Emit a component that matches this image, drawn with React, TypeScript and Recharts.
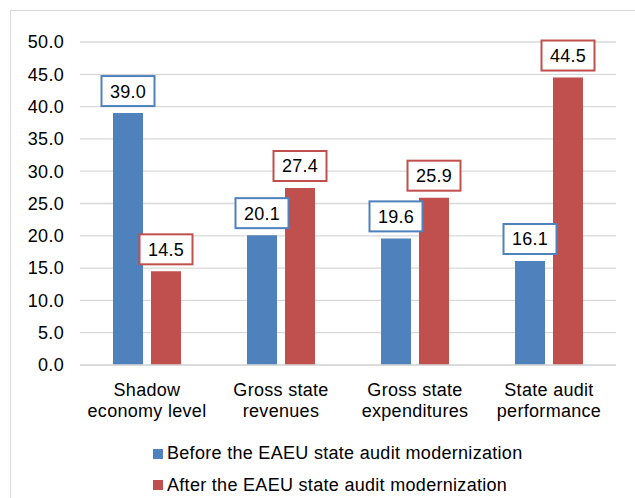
import React from "react";
import {
  BarChart,
  Bar,
  XAxis,
  YAxis,
  CartesianGrid,
  Legend,
  LabelList,
} from "recharts";

const categories = [
  "Shadow\neconomy level",
  "Gross state\nrevenues",
  "Gross state\nexpenditures",
  "State audit\nperformance",
];
const beforeValues = [39.0, 20.1, 19.6, 16.1];
const afterValues = [14.5, 27.4, 25.9, 44.5];
const yTicks = [0, 5, 10, 15, 20, 25, 30, 35, 40, 45, 50];
const seriesNames = [
  "Before the EAEU state audit modernization",
  "After the EAEU state audit modernization",
];

const BLUE = "#4F81BD";
const RED = "#C0504D";
const seriesColors = [BLUE, RED];
const FONT = "Arial, 'Liberation Sans', sans-serif";
const TEXT_STYLE = { fontFamily: FONT, fontSize: 18, letterSpacing: 0.3 };

const data = categories.map((name, i) => ({
  name,
  before: beforeValues[i],
  after: afterValues[i],
}));

function CategoryTick(props: any) {
  const { x, y, payload } = props;
  const lines = String(payload.value).split("\n");
  return (
    <text x={x} y={y} textAnchor="middle" fill="#000" style={TEXT_STYLE}>
      {lines.map((line, i) => (
        <tspan key={i} x={x} y={y + 29 + i * 21}>
          {line}
        </tspan>
      ))}
    </text>
  );
}

function boxLabel(color: string) {
  return (props: any) => {
    const { x, y, width, value } = props;
    const cx = x + width / 2;
    const bw = 53;
    const bh = 30;
    const top = y - 7 - bh;
    return (
      <g>
        <rect
          x={cx - bw / 2}
          y={top}
          width={bw}
          height={bh}
          fill="#fff"
          stroke={color}
          strokeWidth={2}
        />
        <text
          x={cx}
          y={top + bh / 2 + 6.5}
          textAnchor="middle"
          fill="#000"
          style={TEXT_STYLE}
        >
          {Number(value).toFixed(1)}
        </text>
      </g>
    );
  };
}

function LegendBox() {
  return (
    <div style={{ height: 70, paddingLeft: 153, boxSizing: "border-box", overflow: "hidden" }}>
      {seriesNames.map((name, i) => (
        <div
          key={name}
          style={{
            display: "flex",
            alignItems: "center",
            height: 31.5,
            marginTop: i === 0 ? 10 : 0,
            fontFamily: FONT,
            fontSize: 18,
            letterSpacing: 0.3,
            color: "#000",
          }}
        >
          <span
            style={{
              width: 10,
              height: 10,
              background: seriesColors[i],
              marginRight: 4,
              display: "inline-block",
            }}
          />
          <span>{name}</span>
        </div>
      ))}
    </div>
  );
}

export default function App() {
  return (
    <div
      style={{
        position: "fixed",
        left: 0,
        top: 0,
        width: 635,
        height: 498,
        overflow: "hidden",
        background: "#fff",
      }}
    >
      <div
        style={{
          position: "absolute",
          left: 10,
          top: 10,
          width: 700,
          height: 600,
          border: "1px solid #D9D9D9",
        }}
      />
      <div style={{ position: "absolute", left: 0, top: 0 }}>
        <BarChart
          width={635}
          height={498}
          data={data}
          margin={{ top: 42, right: 19, bottom: 0, left: 0 }}
          barGap={8}
        >
          <CartesianGrid
            vertical={false}
            stroke="#D9D9D9"
            strokeWidth={1.3}
          />
          <XAxis
            dataKey="name"
            height={63}
            tickLine={false}
            tickSize={0}
            axisLine={{ stroke: "#D9D9D9", strokeWidth: 1.3 }}
            tick={<CategoryTick />}
            interval={0}
          />
          <YAxis
            width={80}
            domain={[0, 50]}
            ticks={yTicks}
            tickFormatter={(v: number) => v.toFixed(1)}
            tickLine={false}
            tickSize={0}
            tickMargin={16}
            axisLine={false}
            tick={{ fill: "#000", ...TEXT_STYLE }}
          />
          <Legend
            verticalAlign="bottom"
            content={<LegendBox />}
            wrapperStyle={{ left: 0, width: 635, top: 428, bottom: "auto" }}
          />
          <Bar
            dataKey="before"
            name={seriesNames[0]}
            fill={BLUE}
            barSize={30}
            isAnimationActive={false}
          >
            <LabelList dataKey="before" content={boxLabel(BLUE)} />
          </Bar>
          <Bar
            dataKey="after"
            name={seriesNames[1]}
            fill={RED}
            barSize={30}
            isAnimationActive={false}
          >
            <LabelList dataKey="after" content={boxLabel(RED)} />
          </Bar>
        </BarChart>
      </div>
    </div>
  );
}
